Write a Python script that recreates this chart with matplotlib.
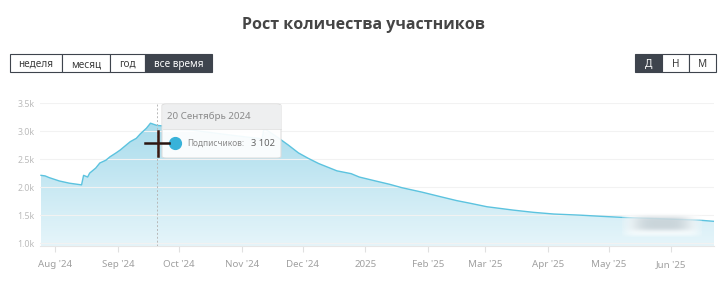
import numpy as np
import pandas as pd
import matplotlib
matplotlib.use("Agg")
import matplotlib.pyplot as plt
import matplotlib.dates as mdates
from matplotlib.patches import FancyBboxPatch, Rectangle
from matplotlib.colors import LinearSegmentedColormap

plt.rcParams['font.family'] = ['Noto Sans', 'DejaVu Sans']

# === Data ===
dates = ["2024-07-25", "2024-07-27", "2024-07-29", "2024-08-03", "2024-08-08",
         "2024-08-14", "2024-08-15", "2024-08-17", "2024-08-18", "2024-08-21",
         "2024-08-23", "2024-08-26", "2024-08-28", "2024-08-31", "2024-09-02",
         "2024-09-05", "2024-09-07", "2024-09-10", "2024-09-12", "2024-09-15",
         "2024-09-17", "2024-09-20", "2024-09-26", "2024-10-11", "2024-10-26",
         "2024-11-11", "2024-11-12", "2024-11-19", "2024-11-24", "2024-11-29",
         "2024-12-04", "2024-12-09", "2024-12-18", "2024-12-25", "2024-12-29",
         "2025-01-06", "2025-01-13", "2025-01-19", "2025-01-29", "2025-02-07",
         "2025-02-15", "2025-02-22", "2025-03-02", "2025-03-15", "2025-03-25",
         "2025-04-04", "2025-04-17", "2025-04-27", "2025-05-08", "2025-06-15",
         "2025-06-22"]
subscribers = [2210, 2200, 2170, 2110, 2070,
               2040, 2210, 2180, 2250, 2340,
               2430, 2480, 2540, 2610, 2660,
               2750, 2810, 2870, 2950, 3050,
               3140, 3102, 3080, 3000, 2930,
               2860, 3050, 2880, 2750, 2610,
               2510, 2420, 2290, 2240, 2180,
               2110, 2050, 1990, 1910, 1830,
               1760, 1710, 1650, 1590, 1550,
               1520, 1500, 1480, 1460, 1410,
               1390]

tick_dates = ["2024-08-01", "2024-09-01", "2024-10-01", "2024-11-01", "2024-12-01",
              "2025-01-01", "2025-02-01", "2025-03-01", "2025-04-01", "2025-05-01",
              "2025-06-01"]
tick_labels = ["Aug '24", "Sep '24", "Oct '24", "Nov '24", "Dec '24", "2025",
               "Feb '25", "Mar '25", "Apr '25", "May '25", "Jun '25"]
y_ticks = [1000, 1500, 2000, 2500, 3000, 3500]

period_buttons = ["неделя", "месяц", "год", "все время"]
scale_buttons = ["Д", "Н", "М"]

hover_date = "2024-09-20"
hover_label = "20 Сентябрь 2024"
hover_value = "3 102"

W, H = 728, 284
LINE = "#5cc3df"
DARK = "#3e444d"


def fx(x):
    return x / W


def fy(y):
    return 1 - y / H


fig = plt.figure(figsize=(W / 100, H / 100), dpi=100)
ax = fig.add_axes([fx(40), fy(246), fx(714) - fx(40), fy(103) - fy(246)])

t = pd.to_datetime(dates)
xs = mdates.date2num(t)
ys = np.array(subscribers)

ymin, ymax = 950, 3500
xmin = mdates.date2num(pd.Timestamp("2024-07-24 12:00"))
xmax = mdates.date2num(pd.Timestamp("2025-06-22"))

# gradient fill under the line
poly = ax.fill_between(xs, ys, ymin, color="none", lw=0)
cmap = LinearSegmentedColormap.from_list("g", ["#e6f5fa", "#a9dcec"])
grad = np.linspace(0, 1, 256).reshape(-1, 1)
img = ax.imshow(grad, cmap=cmap, aspect="auto", origin="lower",
                extent=[xmin, xmax, ymin, 3150], zorder=1)
img.set_clip_path(poly.get_paths()[0], transform=ax.transData)
ax.plot(xs, ys, color=LINE, lw=1.0, zorder=3)

ax.set_xlim(xmin, xmax)
ax.set_ylim(ymin, ymax)
ax.set_yticks(y_ticks)
ax.set_yticklabels([f"{v / 1000:.1f}k" for v in y_ticks])
ax.set_xticks(mdates.date2num(pd.to_datetime(tick_dates)))
ax.set_xticklabels(tick_labels)
ax.grid(axis="y", color="#f2f2f2", lw=0.8, zorder=0)
for s in ["top", "right", "left"]:
    ax.spines[s].set_visible(False)
ax.spines["bottom"].set_color("#e6e6e6")
ax.tick_params(axis="y", length=0, pad=4, labelsize=6.3, labelcolor="#bbbbbb")
ax.tick_params(axis="x", length=4, color="#e0e0e0", pad=6, labelsize=7,
               labelcolor="#a0a0a0")

# hover line
hx = mdates.date2num(pd.Timestamp(hover_date))
ax.axvline(hx, color="#b8b8b8", lw=0.7, ls=(0, (2, 2)), zorder=4)

# title
fig.text(fx(364), fy(25), "Рост количества участников", ha="center", va="center",
         fontsize=11.5, fontweight="bold", color="#454545",
         family=["Open Sans", "DejaVu Sans"])


def button_row(labels, edges, active, y0, y1):
    for i, lab in enumerate(labels):
        x0, x1 = edges[i], edges[i + 1]
        on = lab == active
        fig.patches.append(Rectangle((fx(x0), fy(y1)), fx(x1 - x0), fy(y0) - fy(y1),
                                     transform=fig.transFigure,
                                     facecolor=DARK if on else "white",
                                     edgecolor=DARK, lw=0.8))
        fig.text(fx((x0 + x1) / 2), fy(y1 - 5), lab, ha="center", va="baseline",
                 fontsize=7.2, color="white" if on else "#3a3a3a")


button_row(period_buttons, [10, 62, 110, 145, 212], "все время", 54, 72)
button_row(scale_buttons, [635, 662, 689, 716], "Д", 54, 72)

# tooltip
tip = FancyBboxPatch((fx(162), fy(158)), fx(281 - 162), fy(104) - fy(158),
                     boxstyle="round,pad=0,rounding_size=0.006",
                     transform=fig.transFigure, facecolor="white", alpha=0.93,
                     edgecolor="#dcdcdc", lw=0.8, zorder=10)
fig.patches.append(tip)
fig.patches.append(Rectangle((fx(162.5), fy(129)), fx(118), fy(104.5) - fy(129),
                             transform=fig.transFigure, facecolor="#eeeff0",
                             edgecolor="none", zorder=11))
fig.add_artist(plt.Line2D([fx(162.5), fx(280.5)], [fy(129), fy(129)],
                          color="#e0e0e0", lw=0.6, zorder=12))
fig.text(fx(167), fy(116.5), hover_label, ha="left", va="center", fontsize=7,
         color="#8a8a8a", zorder=13)
fig.add_artist(plt.Line2D([fx(175)], [fy(143)], marker="o", ms=8.5,
                          color="#38b2d9", zorder=13))
fig.text(fx(187), fy(143), "Подписчиков:", ha="left", va="center", fontsize=6.0,
         color="#8a8a8a", zorder=13)
fig.text(fx(275), fy(143), hover_value, ha="right", va="center", fontsize=6.8,
         color="#666666", zorder=13)

# cursor cross
fig.add_artist(plt.Line2D([fx(145), fx(169)], [fy(143), fy(143)], color="#2a1510",
                          lw=1.8, zorder=14))
fig.add_artist(plt.Line2D([fx(157.5), fx(157.5)], [fy(131), fy(156)], color="#3a1a12",
                          lw=1.8, zorder=14))

# blurred label at the right edge
bx0, bx1, by0, by1 = 622, 702, 210, 237
gx = np.linspace(-1, 1, 120)
gy = np.linspace(-1, 1, 40)
GX, GY = np.meshgrid(gx, gy)
blob = np.exp(-(np.abs(GX) / 0.72) ** 4 - (np.abs(GY) / 0.55) ** 4)
rgba = np.zeros(blob.shape + (4,))
rgba[..., :3] = np.array([0.68, 0.74, 0.77])
rgba[..., 3] = 0.6 * blob
base = np.zeros(blob.shape + (4,))
base[..., :3] = 1.0
base[..., 3] = 0.75 * np.exp(-(np.abs(GX) / 0.95) ** 8 - (np.abs(GY) / 0.95) ** 8)
bax = fig.add_axes([fx(bx0), fy(by1), fx(bx1 - bx0), fy(by0) - fy(by1)], zorder=5)
bax.imshow(base, aspect="auto", interpolation="bilinear")
bax.imshow(rgba, aspect="auto", interpolation="bilinear")
bax.axis("off")

fig.savefig("out.png", dpi=100)
